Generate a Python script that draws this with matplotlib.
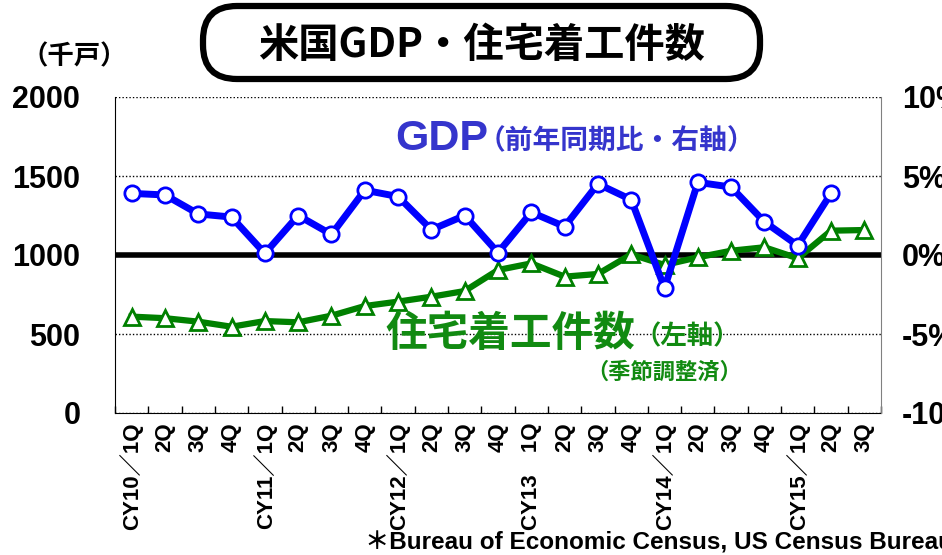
import matplotlib

matplotlib.use("Agg")
import matplotlib.pyplot as plt  # noqa: E402
from matplotlib.patches import FancyBboxPatch  # noqa: E402
import numpy as np  # noqa: E402

plt.rcParams["font.family"] = ["Liberation Sans", "Noto Sans CJK JP", "DejaVu Sans"]

# quarters CY10/1Q .. CY15/3Q
quarters = [
    "CY10／1Q", "2Q", "3Q", "4Q",
    "CY11／1Q", "2Q", "3Q", "4Q",
    "CY12／1Q", "2Q", "3Q", "4Q",
    "CY13　1Q", "2Q", "3Q", "4Q",
    "CY14／1Q", "2Q", "3Q", "4Q",
    "CY15／1Q", "2Q", "3Q",
]
# housing starts (thousand units, seasonally adjusted) - left axis
housing_starts = [610, 600, 578, 546, 582, 574, 616, 677, 705, 736, 772, 905,
                  947, 863, 880, 1004, 937, 985, 1027, 1049, 979, 1154, 1158]
# US GDP growth (%) - right axis, no 2015 3Q figure yet
gdp_growth = [3.9, 3.8, 2.6, 2.4, 0.1, 2.5, 1.3, 4.1, 3.7, 1.6, 2.5, 0.15,
              2.7, 1.8, 4.5, 3.5, -2.1, 4.6, 4.3, 2.1, 0.6, 3.9]
left_ticks = [0, 500, 1000, 1500, 2000]
right_ticks = [-10, -5, 0, 5, 10]
right_labels = ["-10%", "-5%", "0%", "5%", "10%"]

_BLUE = "#0000ff"
_GREEN = "#008000"
_LABEL_BLUE = "#3535cc"
_LABEL_GREEN = "#118a11"
_CJK = ["Noto Sans CJK JP", "DejaVu Sans"]
_LATIN = ["Liberation Sans", "Noto Sans CJK JP"]

W, H = 942, 555
fig = plt.figure(figsize=(W / 100, H / 100), dpi=100, facecolor="white")
ax = fig.add_axes([115 / W, (H - 413) / H, (881 - 115) / W, (413 - 97) / H])
ax2 = ax.twinx()

x = np.arange(len(quarters))

# left axis: housing starts
ax.axhline(1000, color="black", linewidth=4, zorder=2)
ax.plot(x, housing_starts, color=_GREEN, linewidth=4.5, marker="^", markersize=12,
        markerfacecolor="white", markeredgecolor=_GREEN, markeredgewidth=2, zorder=3)
ax.set_xlim(-0.5, len(quarters) - 0.5)
ax.set_ylim(0, 2000)
ax.set_yticks(left_ticks)
ax.set_yticklabels([str(v) for v in left_ticks], fontsize=22, fontweight="bold")
ax.tick_params(axis="y", length=0, pad=25)
ax.grid(axis="y", linestyle=(0, (1, 1.5)), color="black", linewidth=1, zorder=1)
ax.set_axisbelow(True)

ax.set_xticks(x)
ax.set_xticklabels(quarters, rotation=90, fontsize=16, fontweight="bold")
ax.tick_params(axis="x", which="major", length=0, pad=7)
ax.set_xticks(np.arange(-0.5, len(quarters), 1), minor=True)
ax.tick_params(axis="x", which="minor", direction="in", length=5, width=1, color="black")

for side in ("top", "right"):
    ax.spines[side].set_visible(False)
ax.spines["left"].set_color("black")
ax.spines["bottom"].set_color("black")

# right axis: GDP growth
ax2.plot(np.arange(len(gdp_growth)), gdp_growth, color=_BLUE, linewidth=5, marker="o",
         markersize=11, markerfacecolor="white", markeredgecolor=_BLUE, markeredgewidth=2)
ax2.set_ylim(-10, 10)
ax2.set_yticks(right_ticks)
ax2.set_yticklabels(right_labels, fontsize=22, fontweight="bold")
ax2.tick_params(axis="y", length=0, pad=15)
for side in ("top", "left", "bottom"):
    ax2.spines[side].set_visible(False)
ax2.spines["right"].set_color("#808080")

# title box
box = FancyBboxPatch((2.03, (H - 79) / 100), 5.57, 0.73,
                     boxstyle="round,pad=0,rounding_size=0.34",
                     transform=fig.dpi_scale_trans, facecolor="white",
                     edgecolor="black", linewidth=4.5)
fig.add_artist(box)
fig.text(481 / W, 1 - 45 / H, "米国GDP・住宅着工件数", fontsize=29, fontweight="bold",
         family=_CJK, ha="center", va="center")

fig.text(74 / W, 1 - 57 / H, "（千戸）", fontsize=19, fontweight="bold",
         family=_CJK, ha="center", va="center")

# series labels
fig.text(395 / W, 1 - 139 / H, "GDP", fontsize=31, fontweight="bold",
         family=_LATIN, color=_LABEL_BLUE, ha="left", va="center")
fig.text(478 / W, 1 - 141 / H, "（前年同期比・右軸）", fontsize=20, fontweight="bold",
         family=_CJK, color=_LABEL_BLUE, ha="left", va="center")
fig.text(385 / W, 1 - 334 / H, "住宅着工件数", fontsize=30, fontweight="bold",
         family=_CJK, color=_LABEL_GREEN, ha="left", va="center")
fig.text(635 / W, 1 - 337 / H, "（左軸）", fontsize=19, fontweight="bold",
         family=_CJK, color=_LABEL_GREEN, ha="left", va="center")
fig.text(586 / W, 1 - 372 / H, "（季節調整済）", fontsize=16, fontweight="bold",
         family=_CJK, color=_LABEL_GREEN, ha="left", va="center")

fig.text(365 / W, 1 - 543 / H, "＊Bureau of Economic Census, US Census Bureau",
         fontsize=17.5, fontweight="bold", family=_LATIN, ha="left", va="center")

fig.savefig("out.png", dpi=100, facecolor="white")
